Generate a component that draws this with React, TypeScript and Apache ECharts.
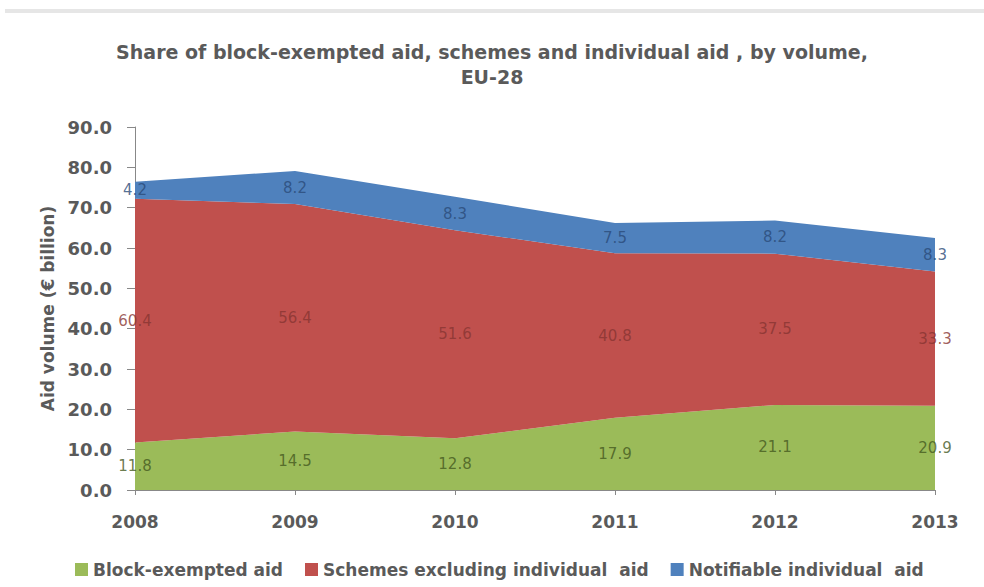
import React, { useEffect, useRef } from "react";
import * as echarts from "echarts";

const years = ["2008", "2009", "2010", "2011", "2012", "2013"];
const blockExempted = [11.8, 14.5, 12.8, 17.9, 21.1, 20.9];
const schemes = [60.4, 56.4, 51.6, 40.8, 37.5, 33.3];
const notifiable = [4.2, 8.2, 8.3, 7.5, 8.2, 8.3];
const yTicks = { min: 0, max: 90, interval: 10 };

const seriesNames = [
  "Block-exempted aid",
  "Schemes excluding individual  aid",
  "Notifiable individual  aid",
];
const colors = ["#9BBB59", "#C0504D", "#4F81BD"];
const labelColors = ["#44591f", "#873532", "#2a4a78"];
const FONT = "DejaVu Sans";

export default function App() {
  const ref = useRef<HTMLDivElement>(null);
  useEffect(() => {
    if (!ref.current) return;
    const chart = echarts.init(ref.current, null, { renderer: "svg" });
    const bands = [blockExempted, schemes, notifiable];
    const mids = bands.map((band, bi) =>
      band.map((v, i) => {
        let base = 0;
        for (let k = 0; k < bi; k++) base += bands[k][i];
        return [i, base + v / 2, v];
      })
    );
    const areaSeries = bands.map((band, bi) => ({
      name: seriesNames[bi],
      type: "line",
      stack: "total",
      data: band,
      symbol: "none",
      lineStyle: { width: 0 },
      areaStyle: { color: colors[bi], opacity: 1 },
      itemStyle: { color: colors[bi] },
      z: 2,
    }));
    const labelSeries = mids.map((pts, bi) => ({
      name: "lbl" + bi,
      type: "scatter",
      data: pts,
      symbolSize: 1,
      itemStyle: { color: "rgba(0,0,0,0)" },
      z: 5,
      label: {
        show: true,
        position: "inside",
        formatter: (p: any) => Number(p.value[2]).toFixed(1),
        color: labelColors[bi],
        fontFamily: FONT,
        fontSize: 15,
      },
    }));
    chart.setOption({
      animation: false,
      backgroundColor: "#ffffff",
      title: {
        text: "Share of block-exempted aid, schemes and individual aid , by volume,\nEU-28",
        left: "center",
        top: 34,
        textStyle: {
          fontFamily: FONT,
          fontSize: 19,
          fontWeight: "bold",
          color: "#5a5a5a",
          lineHeight: 25,
        },
      },
      graphic: [
        {
          type: "rect",
          shape: { x: 5, y: 9, width: 979, height: 4 },
          style: { fill: "#e6e6e6" },
        },
      ],
      legend: {
        data: seriesNames,
        left: 70,
        top: 556,
        icon: "rect",
        itemWidth: 13,
        itemHeight: 13,
        itemGap: 22,
        textStyle: {
          fontFamily: FONT,
          fontSize: 17,
          fontWeight: "bold",
          color: "#5a5a5a",
        },
      },
      grid: { left: 135, right: 49, top: 127, bottom: 97 },
      xAxis: {
        type: "category",
        data: years,
        boundaryGap: false,
        axisLine: { lineStyle: { color: "#888" } },
        axisTick: { show: true, lineStyle: { color: "#888" } },
        axisLabel: {
          fontFamily: FONT,
          fontSize: 17,
          fontWeight: "bold",
          color: "#5a5a5a",
          margin: 23,
        },
      },
      yAxis: {
        type: "value",
        min: yTicks.min,
        max: yTicks.max,
        interval: yTicks.interval,
        name: "Aid volume (€ billion)",
        nameLocation: "middle",
        nameGap: 78,
        nameTextStyle: {
          fontFamily: FONT,
          fontSize: 17,
          fontWeight: "bold",
          color: "#5a5a5a",
        },
        splitLine: { show: false },
        axisLine: { show: true, lineStyle: { color: "#888" } },
        axisTick: { show: true, length: 8, lineStyle: { color: "#888" } },
        axisLabel: {
          fontFamily: FONT,
          fontSize: 18,
          fontWeight: "bold",
          color: "#5a5a5a",
          margin: 23,
          formatter: (v: number) => v.toFixed(1),
        },
      },
      series: [...areaSeries, ...labelSeries],
    });
    return () => chart.dispose();
  }, []);
  return (
    <div
      ref={ref}
      style={{ position: "absolute", left: 0, top: 0, width: 984, height: 587 }}
    />
  );
}
